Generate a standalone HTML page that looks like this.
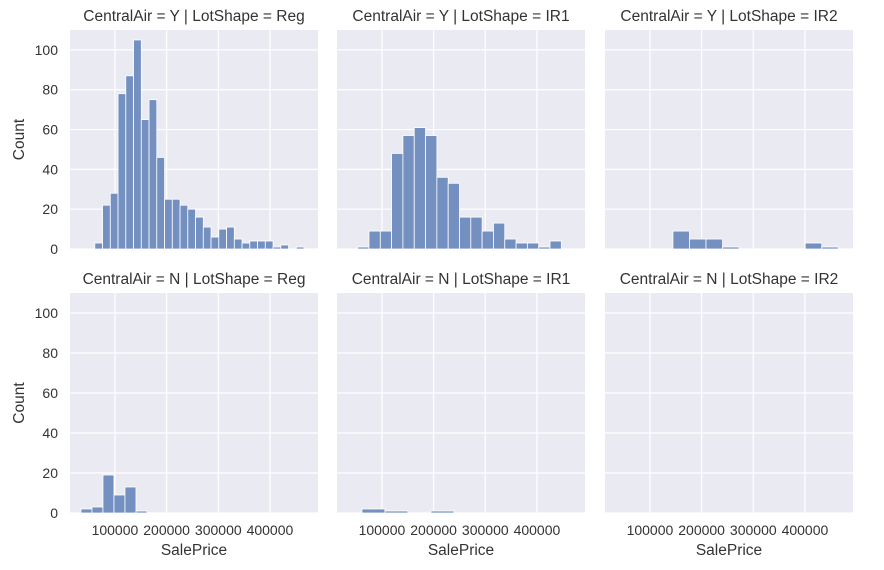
<!DOCTYPE html>
<html><head><meta charset="utf-8"><style>
body{margin:0;background:#fff;}
svg{display:block;font-family:"Liberation Sans",Arial,sans-serif;}
</style></head><body>
<svg id="chart" width="884" height="570"></svg>
<script>
const xTicks=[100000,200000,300000,400000];
const xTickLabels=["100000","200000","300000","400000"];
const yTicks=[0,20,40,60,80,100];
const yTickLabels=["0","20","40","60","80","100"];
const panelTitles=["CentralAir = Y | LotShape = Reg","CentralAir = Y | LotShape = IR1","CentralAir = Y | LotShape = IR2","CentralAir = N | LotShape = Reg","CentralAir = N | LotShape = IR1","CentralAir = N | LotShape = IR2"];
const binStarts=[61000,53000,144500,34200,61300,0];
const binWidths=[15000,21900,32000,21300,44500,1];
const countsYReg=[3,22,28,78,87,105,65,75,46,25,25,22,20,16,11,6,10,11,5,3,4,4,4,1,2,0,1];
const countsYIR1=[1,9,9,48,57,61,57,36,33,16,16,9,13,5,3,3,1,4];
const countsYIR2=[9,5,5,1,0,0,0,0,3,1];
const countsNReg=[2,3,19,9,13,1];
const countsNIR1=[2,1,0,1];
const countsNIR2=[];
const allCounts=[countsYReg,countsYIR1,countsYIR2,countsNReg,countsNIR1,countsNIR2];

const NS="http://www.w3.org/2000/svg";
const svg=document.getElementById('chart');
function mk(tag,attrs,parent){const e=document.createElementNS(NS,tag);for(const k in attrs)e.setAttribute(k,attrs[k]);(parent||svg).appendChild(e);return e;}
const panelX=[70,337,605], panelW=248;
const panelY=[30,293], panelH=[219,220];
const xMin=13000,xMax=493000,yMax=110;
const txt='#333';
for(let i=0;i<6;i++){
  const col=i%3,row=Math.floor(i/3);
  const px=panelX[col],py=panelY[row],ph=panelH[row];
  const xs=v=>px+(v-xMin)/(xMax-xMin)*panelW;
  const ys=v=>py+ph-v/yMax*ph;
  const g=mk('g',{});
  
  
  mk('rect',{x:px,y:py,width:panelW,height:ph,fill:'#eaeaf2'},g);
  xTicks.forEach(t=>{mk('line',{x1:xs(t),x2:xs(t),y1:py,y2:py+ph,stroke:'#fff','stroke-width':1.2},g);});
  yTicks.forEach(t=>{mk('line',{x1:px,x2:px+panelW,y1:ys(t),y2:ys(t),stroke:'#fff','stroke-width':1.2},g);});
  allCounts[i].forEach((c,k)=>{
    if(c<=0)return;
    const x0=xs(binStarts[i]+k*binWidths[i]),x1=xs(binStarts[i]+(k+1)*binWidths[i]);
    const b=mk('rect',{x:x0,y:ys(c),width:x1-x0,height:ys(0)-ys(c),fill:'#7390c0',stroke:'#fff','stroke-width':0.8},g);
    
    
  });
  const t=mk('text',{x:px+panelW/2,y:py-9,'text-anchor':'middle','font-size':15.5,fill:txt},g);
  t.textContent=panelTitles[i];
  
  
  if(col===0){
    yTicks.forEach((v,j)=>{const l=mk('text',{x:px-12,y:ys(v)+5,'text-anchor':'end','font-size':14,fill:txt},g);l.textContent=yTickLabels[j];
      
      });
    const yl=mk('text',{x:0,y:0,transform:`translate(24,${py+ph/2}) rotate(-90)`,'text-anchor':'middle','font-size':15.5,fill:txt},g);
    yl.textContent='Count';
    
    
  }
  if(row===1){
    xTicks.forEach((v,j)=>{const l=mk('text',{x:xs(v),y:535,'text-anchor':'middle','font-size':14,fill:txt},g);l.textContent=xTickLabels[j];
      
      });
    const xl=mk('text',{x:px+panelW/2,y:555,'text-anchor':'middle','font-size':15.5,fill:txt},g);
    xl.textContent='SalePrice';
    
    
  }
}
</script>
</body></html>
